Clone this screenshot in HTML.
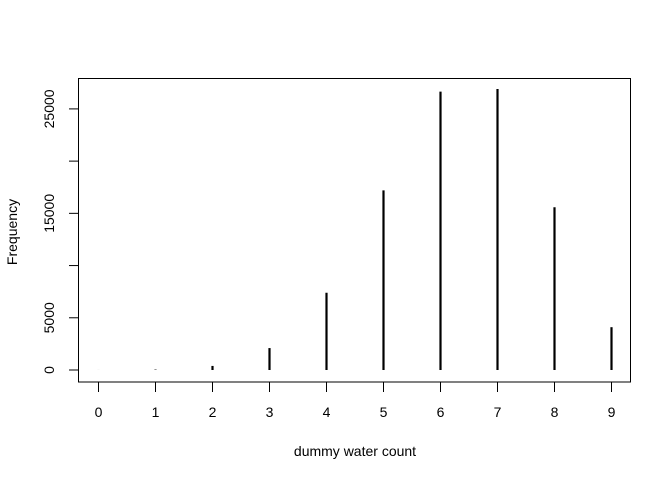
<!DOCTYPE html>
<html><head><meta charset="utf-8"><style>
body{margin:0;background:#fff}
svg text{font-family:"Liberation Sans",Arial,sans-serif;font-size:14px;fill:#000}
</style></head><body>
<svg id="chart" width="672" height="480">
<rect x="78.5" y="78.5" width="552" height="303.5" fill="none" stroke="#000"/>
<g id="marks"></g><g id="axes"></g>
<text x="355" y="456" text-anchor="middle">dummy water count</text>
<text transform="translate(17,232) rotate(-90)" text-anchor="middle">Frequency</text>
</svg>
<script>
const categories=[0,1,2,3,4,5,6,7,8,9];
const counts=[3,40,390,2100,7400,17200,26650,26900,15580,4100];
const yTicks=[0,5000,10000,15000,20000,25000];
const yLabels=["0","5000","","15000","","25000"];
const NS="http://www.w3.org/2000/svg";
function xs(v){return 98.5+v*57;}
function ys(v){return 370-v*0.010444;}
const m=document.getElementById('marks'),a=document.getElementById('axes');
function el(t,at,p){const e=document.createElementNS(NS,t);for(const k in at)e.setAttribute(k,at[k]);p.appendChild(e);return e;}
categories.forEach((c,i)=>{
 const l=el('line',{x1:xs(c),x2:xs(c),y1:ys(0),y2:ys(counts[i]),stroke:'#000','stroke-width':2.2},m);
 
 
 const t=el('line',{x1:xs(c),x2:xs(c),y1:382,y2:392,stroke:'#000'},a);
 
 
 const tx=el('text',{x:xs(c),y:417,'text-anchor':'middle'},a);tx.textContent=c;
 
 
});
yTicks.forEach((v,i)=>{
 const t=el('line',{x1:69,x2:78.5,y1:ys(v),y2:ys(v),stroke:'#000'},a);
 
 
 if(yLabels[i]){const tx=el('text',{transform:`translate(54,${ys(v)}) rotate(-90)`,'text-anchor':'middle'},a);tx.textContent=yLabels[i];
 
 }
});
</script>
</body></html>
